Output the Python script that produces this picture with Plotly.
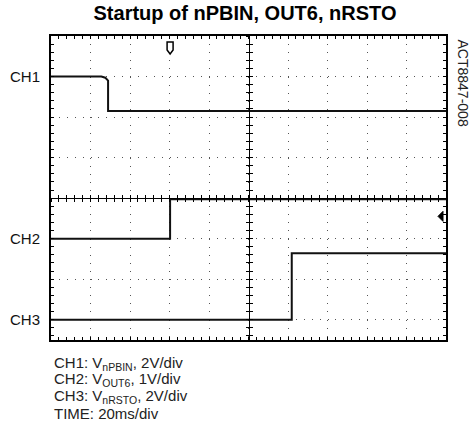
import plotly.graph_objects as go

# ---------------- data (screen divisions / milliseconds) ----------------
title_text = "Startup of nPBIN, OUT6, nRSTO"
side_label = "ACT8847-008"

time_per_div_ms = 20
x_range_ms = [0, 200]
y_range_div = [-3.5, 4]

ch1_time_ms = [0, 25.5, 27.5, 28.9, 28.9, 200]
ch1_level_div = [3.0, 3.0, 2.97, 2.9, 2.15, 2.15]

ch2_time_ms = [0, 60.3, 60.3, 200]
ch2_level_div = [-1.0, -1.0, -0.03, -0.03]

ch3_time_ms = [0, 121.9, 121.9, 200]
ch3_level_div = [-3.0, -3.0, -1.36, -1.36]

channel_names = ["CH1", "CH2", "CH3"]
channel_ref_div = [3.0, -1.0, -3.0]

trigger_time_ms = 60.3
trigger_level_div = -0.45

legend_main = ["CH1: V", "CH2: V", "CH3: V", "TIME: 20ms/div"]
legend_sub = ["nPBIN", "OUT6", "nRSTO", ""]
legend_tail = [", 2V/div", ", 1V/div", ", 2V/div", ""]

# ---------------- layout geometry ----------------
W, H = 476, 425
ML, MR, MT, MB = 51, 30, 36, 85
PW, PH = W - ML - MR, H - MT - MB


def px_x(px):
    return (px - ML) / PW


def px_y(py):
    return (H - MB - py) / PH


FONT = "Arial, 'Liberation Sans', sans-serif"
INK = "#111111"

fig = go.Figure()

for t, v in [(ch1_time_ms, ch1_level_div), (ch2_time_ms, ch2_level_div), (ch3_time_ms, ch3_level_div)]:
    fig.add_trace(go.Scatter(x=t, y=v, mode="lines", line=dict(color=INK, width=2),
                             showlegend=False, hoverinfo="skip"))

# dummy traces so the center-cross axes get drawn
for xa, ya in [("x2", "y"), ("x3", "y"), ("x", "y2"), ("x", "y3")]:
    fig.add_trace(go.Scatter(x=[None], y=[None], xaxis=xa, yaxis=ya, showlegend=False, hoverinfo="skip"))

minor_x = time_per_div_ms / 5
center_y_pos = (0 - y_range_div[0]) / (y_range_div[1] - y_range_div[0])

base_x = dict(range=x_range_ms, showticklabels=False, zeroline=False, fixedrange=True)
base_y = dict(range=y_range_div, showticklabels=False, zeroline=False, fixedrange=True)

fig.update_layout(
    width=W, height=H,
    margin=dict(l=ML, r=MR, t=MT, b=MB),
    paper_bgcolor="white", plot_bgcolor="white",
    font=dict(family=FONT, color=INK),
    title=dict(text="<b>" + title_text + "</b>", x=px_x(245), xref="paper", xanchor="center",
               y=1 - 13 / H, yref="container", yanchor="middle",
               font=dict(size=20, family=FONT, color="#000")),
    xaxis=dict(**base_x, tick0=0, dtick=time_per_div_ms, showgrid=True, gridcolor="#555",
               gridwidth=1, griddash="1px,7.1px", showline=True, linecolor="black", linewidth=2,
               mirror="allticks", ticks="inside", ticklen=3, tickcolor="black",
               minor=dict(dtick=minor_x, ticks="inside", ticklen=3, tickcolor="black", showgrid=False)),
    yaxis=dict(**base_y, tick0=0, dtick=1, showgrid=True, gridcolor="#555",
               gridwidth=1, griddash="1px,6.9px", showline=True, linecolor="black", linewidth=2,
               mirror="allticks", ticks="inside", ticklen=3, tickcolor="black",
               minor=dict(dtick=0.2, ticks="inside", ticklen=3, tickcolor="black", showgrid=False)),
    xaxis2=dict(**base_x, overlaying="x", anchor="free", position=center_y_pos, showgrid=False,
                showline=True, linecolor="black", linewidth=1, ticks="outside", ticklen=3,
                tick0=0, dtick=minor_x, tickcolor="black"),
    xaxis3=dict(**base_x, overlaying="x", anchor="free", position=center_y_pos, showgrid=False,
                showline=True, linecolor="black", linewidth=1, ticks="inside", ticklen=3,
                tick0=0, dtick=minor_x, tickcolor="black"),
    yaxis2=dict(**base_y, overlaying="y", anchor="free", position=0.5, side="left", showgrid=False,
                showline=True, linecolor="black", linewidth=1, ticks="outside", ticklen=3,
                tick0=0, dtick=0.2, tickcolor="black"),
    yaxis3=dict(**base_y, overlaying="y", anchor="free", position=0.5, side="left", showgrid=False,
                showline=True, linecolor="black", linewidth=1, ticks="inside", ticklen=3,
                tick0=0, dtick=0.2, tickcolor="black"),
)

# trigger position marker (top) and trigger level marker (right)
fig.add_shape(type="path", xref="x", yref="y", xsizemode="pixel", ysizemode="pixel",
              xanchor=trigger_time_ms, yanchor=y_range_div[1],
              path="M-3,-6 L3,-6 L3,-14 L0,-18 L-3,-14 Z",
              line=dict(color="black", width=1.5), fillcolor="white")
fig.add_shape(type="path", xref="x", yref="y", xsizemode="pixel", ysizemode="pixel",
              xanchor=x_range_ms[1], yanchor=trigger_level_div,
              path="M-8,0 L-3,5 L-3,-5 Z",
              line=dict(color="black", width=1), fillcolor="black")

for name, lvl in zip(channel_names, channel_ref_div):
    fig.add_annotation(text=name, x=x_range_ms[0], y=lvl, xref="x", yref="y", xanchor="right",
                       yanchor="middle", xshift=-9, showarrow=False,
                       font=dict(size=15, family=FONT, color=INK))

fig.add_annotation(text=side_label, x=px_x(463), y=px_y(37), xref="paper", yref="paper",
                   xanchor="center", yanchor="top", textangle=90, showarrow=False,
                   font=dict(size=14, family=FONT, color="#222"))

legend_rows_px = [363, 379.5, 396, 413]
for m, s, t, row in zip(legend_main, legend_sub, legend_tail, legend_rows_px):
    txt = m + ("<sub>" + s + "</sub>" if s else "") + t
    fig.add_annotation(text=txt, x=px_x(52), y=px_y(row), xref="paper", yref="paper",
                       xanchor="left", yanchor="middle", showarrow=False, align="left",
                       font=dict(size=15, family=FONT, color="#222"))

fig.write_html("out.html", config={"displayModeBar": False},
               post_script="document.body.style.margin='0';")
